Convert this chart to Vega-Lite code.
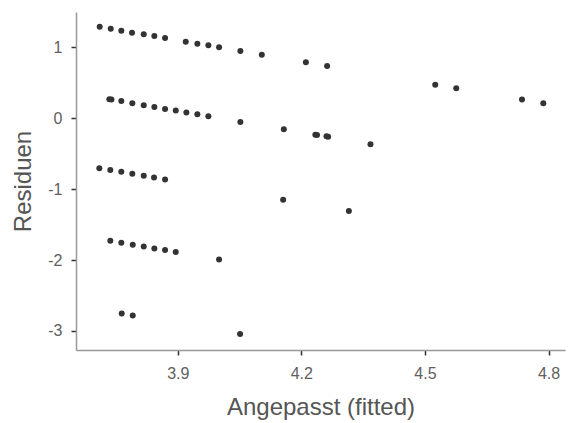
{
  "$schema": "https://vega.github.io/schema/vega-lite/v6.json",
  "width": 489,
  "height": 338,
  "autosize": {"type": "none"},
  "padding": {"left": 76, "top": 12, "right": 3, "bottom": 73},
  "background": "white",
  "config": {
    "view": {"stroke": null},
    "font": "Liberation Sans",
    "axis": {
      "grid": false,
      "domainColor": "#999999",
      "domainWidth": 1.5,
      "tickColor": "#333333",
      "tickWidth": 1.5,
      "tickSize": 5,
      "labelColor": "#606060",
      "labelFont": "Liberation Sans",
      "labelFontSize": 16,
      "titleColor": "#555555",
      "titleFont": "Liberation Sans",
      "titleFontSize": 24,
      "titleFontWeight": "normal"
    }
  },
  "data": {
    "values": [
      {"fitted": 3.7105, "resid": 1.290},
      {"fitted": 3.7373, "resid": 1.262},
      {"fitted": 3.7630, "resid": 1.234},
      {"fitted": 3.7890, "resid": 1.206},
      {"fitted": 3.8174, "resid": 1.183},
      {"fitted": 3.8432, "resid": 1.159},
      {"fitted": 3.8692, "resid": 1.131},
      {"fitted": 3.9194, "resid": 1.079},
      {"fitted": 3.9476, "resid": 1.051},
      {"fitted": 3.9743, "resid": 1.028},
      {"fitted": 4.0003, "resid": 1.000},
      {"fitted": 4.0520, "resid": 0.948},
      {"fitted": 4.1040, "resid": 0.896},
      {"fitted": 4.2110, "resid": 0.789},
      {"fitted": 4.2626, "resid": 0.737},
      {"fitted": 4.5250, "resid": 0.473},
      {"fitted": 4.5760, "resid": 0.422},
      {"fitted": 4.7356, "resid": 0.262},
      {"fitted": 4.7873, "resid": 0.211},
      {"fitted": 3.7340, "resid": 0.268},
      {"fitted": 3.7390, "resid": 0.262},
      {"fitted": 3.7630, "resid": 0.244},
      {"fitted": 3.7897, "resid": 0.211},
      {"fitted": 3.8174, "resid": 0.183},
      {"fitted": 3.8432, "resid": 0.159},
      {"fitted": 3.8692, "resid": 0.131},
      {"fitted": 3.8951, "resid": 0.107},
      {"fitted": 3.9209, "resid": 0.079},
      {"fitted": 3.9476, "resid": 0.056},
      {"fitted": 3.9743, "resid": 0.028},
      {"fitted": 4.0520, "resid": -0.052},
      {"fitted": 4.1575, "resid": -0.155},
      {"fitted": 4.2340, "resid": -0.232},
      {"fitted": 4.2380, "resid": -0.238},
      {"fitted": 4.2610, "resid": -0.255},
      {"fitted": 4.2650, "resid": -0.263},
      {"fitted": 4.3678, "resid": -0.366},
      {"fitted": 3.7096, "resid": -0.704},
      {"fitted": 3.7363, "resid": -0.732},
      {"fitted": 3.7630, "resid": -0.756},
      {"fitted": 3.7897, "resid": -0.785},
      {"fitted": 3.8174, "resid": -0.813},
      {"fitted": 3.8424, "resid": -0.837},
      {"fitted": 3.8692, "resid": -0.865},
      {"fitted": 4.1558, "resid": -1.151},
      {"fitted": 4.3154, "resid": -1.310},
      {"fitted": 3.7363, "resid": -1.728},
      {"fitted": 3.7630, "resid": -1.756},
      {"fitted": 3.7907, "resid": -1.785},
      {"fitted": 3.8174, "resid": -1.808},
      {"fitted": 3.8432, "resid": -1.837},
      {"fitted": 3.8692, "resid": -1.859},
      {"fitted": 3.8951, "resid": -1.887},
      {"fitted": 4.0003, "resid": -1.992},
      {"fitted": 3.7640, "resid": -2.752},
      {"fitted": 3.7907, "resid": -2.780},
      {"fitted": 4.0513, "resid": -3.042}
    ]
  },
  "mark": {"type": "circle", "size": 36, "color": "#333333", "opacity": 1},
  "encoding": {
    "x": {
      "field": "fitted",
      "type": "quantitative",
      "scale": {"domain": [3.653, 4.84], "nice": false, "zero": false},
      "axis": {"values": [3.9, 4.2, 4.5, 4.8], "format": ".1f", "title": "Angepasst (fitted)", "titlePadding": 14, "labelPadding": 10}
    },
    "y": {
      "field": "resid",
      "type": "quantitative",
      "scale": {"domain": [-3.268, 1.497], "nice": false, "zero": false},
      "axis": {"values": [-3, -2, -1, 0, 1], "labelExpr": "datum.value < 0 ? '-' + abs(datum.value) : '' + datum.value", "title": "Residuen", "titlePadding": 12, "labelPadding": 9}
    }
  }
}
